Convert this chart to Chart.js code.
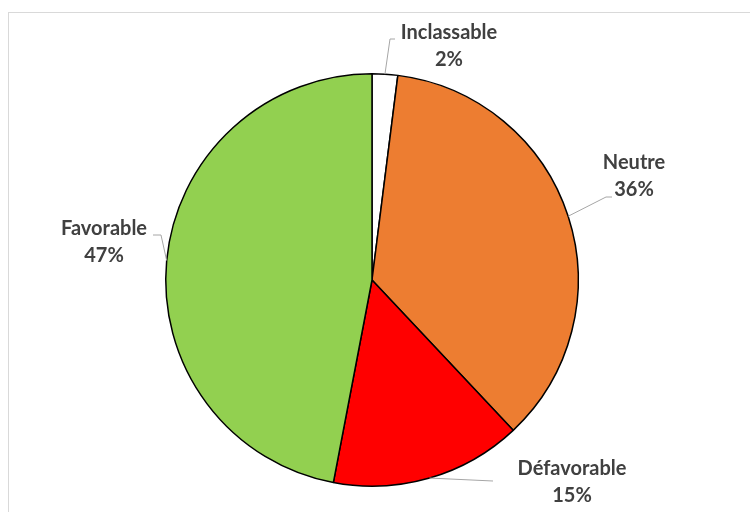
<!DOCTYPE html>
<html lang="fr">
<head>
<meta charset="UTF-8">
<title>Répartition des avis</title>
<script src="https://cdn.jsdelivr.net/npm/chart.js"></script>
<style>
  html, body { margin: 0; padding: 0; background: #fff; }
  #wrap { width: 750px; height: 512px; position: relative; }
</style>
</head>
<body>
<div id="wrap"><canvas id="pie" width="750" height="512"></canvas></div>
<script>
// Data
const categories = ['Inclassable', 'Neutre', 'Défavorable', 'Favorable'];
const shares = [2, 36, 15, 47];
const sliceColors = ['#ffffff', '#ed7d31', '#ff0000', '#92d050'];

// label box offsets (px from the pie centre) and elbow end of each leader line
const labelLayout = [
  { tx: 77, ty: -247, ex: 18, ey: -241, hx: 23 },
  { tx: 262, ty: -117, ex: 234, ey: -83, hx: 240 },
  { tx: 200, ty: 189, ex: 121, ey: 201, hx: 121 },
  { tx: -268, ty: -51, ex: -211, ey: -45, hx: -219 }
];

const frame = {
  id: 'frame',
  beforeDraw(chart) {
    const c = chart.ctx;
    c.save();
    c.strokeStyle = '#d9d9d9';
    c.lineWidth = 1;
    c.strokeRect(8.5, 12.5, 800, 600);
    c.restore();
  }
};

const leaderLabels = {
  id: 'leaderLabels',
  afterDatasetsDraw(chart) {
    const c = chart.ctx;
    const meta = chart.getDatasetMeta(0);
    c.save();
    meta.data.forEach((arc, i) => {
      const { x, y, startAngle, endAngle, outerRadius } = arc.getProps(['x', 'y', 'startAngle', 'endAngle', 'outerRadius'], true);
      const mid = (startAngle + endAngle) / 2;
      const px = x + Math.cos(mid) * outerRadius;
      const py = y + Math.sin(mid) * outerRadius;
      const L = labelLayout[i];
      c.strokeStyle = '#a6a6a6';
      c.lineWidth = 1;
      c.beginPath();
      c.moveTo(px, py);
      c.lineTo(x + L.ex, y + L.ey);
      c.lineTo(x + L.hx, y + L.ey);
      c.stroke();
      c.fillStyle = '#404040';
      c.font = 'bold 20px Lato, "Open Sans", sans-serif';
      c.textAlign = 'center';
      c.textBaseline = 'middle';
      c.fillText(categories[i], x + L.tx, y + L.ty);
      c.fillText(shares[i] + '%', x + L.tx, y + L.ty + 27);
    });
    c.restore();
  }
};

new Chart(document.getElementById('pie'), {
  type: 'pie',
  data: {
    labels: categories,
    datasets: [{
      data: shares,
      backgroundColor: sliceColors,
      borderColor: '#000000',
      borderWidth: 1.5
    }]
  },
  options: {
    responsive: false,
    animation: false,
    layout: { padding: { top: 73, bottom: 25, left: 165, right: 171 } },
    plugins: {
      legend: { display: false },
      tooltip: { enabled: false }
    }
  },
  plugins: [frame, leaderLabels]
});
</script>
</body>
</html>
